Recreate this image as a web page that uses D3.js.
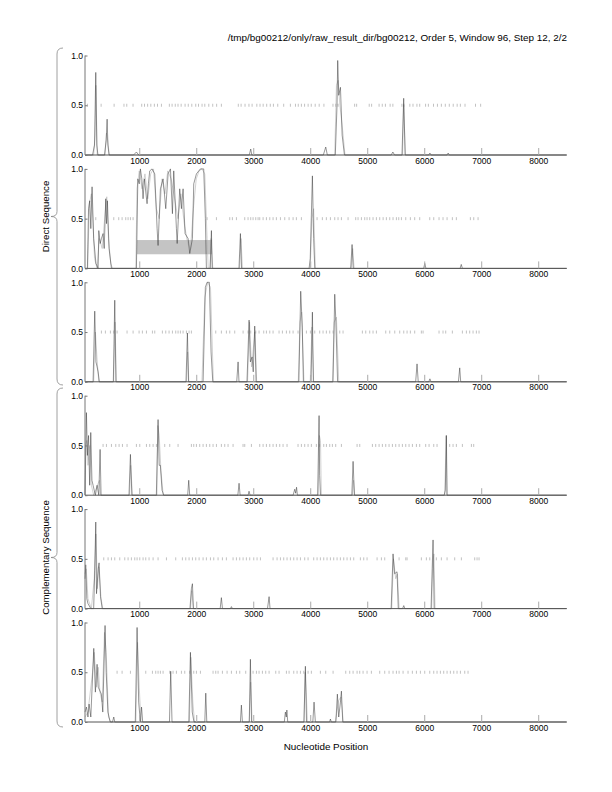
<!DOCTYPE html>
<html><head><meta charset="utf-8">
<script src="https://cdn.jsdelivr.net/npm/d3@7"></script>
<style>
html,body{margin:0;padding:0;background:#fff;}
svg{display:block;font-family:"Liberation Sans",Arial,Helvetica,sans-serif;}
</style></head>
<body>
<svg id="c" width="612" height="792"></svg>
<script>
const titleText = "/tmp/bg00212/only/raw_result_dir/bg00212, Order 5, Window 96, Step 12, 2/2";
const xLabel = "Nucleotide Position";
const groupLabels = ["Direct Sequence", "Complementary Sequence"];
const xDomain = [48, 8500];
const xTicks = [1000, 2000, 3000, 4000, 5000, 6000, 7000, 8000];
const yTicks = [0, 0.5, 1];
const boxX = [961, 2277];
const boxY = [0.142, 0.285];

const p1Black = [[48,0],[180,0],[215,0.1],[237,0.83],[255,0.1],[275,0],[390,0],[420,0.15],[436,0.36],[450,0.1],[470,0],[900,0],[950,0.03],[990,0],[2930,0],[2956,0.06],[2975,0],[4230,0],[4272,0.08],[4300,0],[4440,0],[4470,0.5],[4482,0.95],[4500,0.6],[4530,0.68],[4560,0.2],[4600,0],[5420,0],[5450,0.03],[5480,0],[5610,0],[5640,0.57],[5665,0],[6080,0],[6100,0.02],[6120,0],[6400,0],[6420,0.02],[6440,0],[8500,0]];
const p1Gray = [[48,0],[200,0],[225,0.2],[240,0.7],[262,0],[400,0],[425,0.22],[445,0.15],[475,0],[4430,0],[4460,0.7],[4490,0.75],[4520,0.5],[4560,0.3],[4610,0],[5620,0],[5640,0.5],[5670,0],[8500,0]];
const p2Black = [[48,0],[90,0],[110,0.6],[131,0.68],[150,0.4],[172,0.82],[200,0.3],[240,0.05],[278,0],[290,0.38],[315,0.25],[336,0.3],[365,0.35],[385,0.2],[412,0.7],[425,0.45],[441,0.68],[470,0.2],[512,0],[950,0],[975,0.9],[1000,0.85],[1020,1.0],[1045,0.9],[1067,0.7],[1090,0.9],[1137,0.65],[1160,0.85],[1184,0.98],[1225,1.0],[1272,0.95],[1313,0.4],[1330,0.23],[1371,0.8],[1418,0.9],[1465,0.6],[1506,0.95],[1547,1.0],[1582,0.55],[1605,0.98],[1652,0.4],[1665,0.25],[1710,0.8],[1740,0.6],[1769,0.8],[1804,0.35],[1857,0.3],[1886,0.15],[1933,0.3],[1956,0.85],[2003,0.95],[2073,1.0],[2131,1.0],[2160,0.5],[2178,0],[2245,0],[2266,0.38],[2280,0],[2750,0],[2775,0.35],[2795,0],[3980,0],[4000,0.1],[4038,0.93],[4060,0.3],[4080,0],[4710,0],[4734,0.24],[4755,0],[5990,0],[6010,0.05],[6030,0],[6630,0],[6650,0.04],[6670,0],[8500,0]];
const p2Gray = [[48,0],[95,0],[125,0.65],[160,0.75],[185,0.5],[215,0.1],[260,0],[300,0.3],[350,0.2],[400,0.55],[430,0.72],[460,0.3],[500,0.05],[530,0],[940,0],[960,0.8],[1000,0.98],[1050,0.8],[1100,0.95],[1150,0.7],[1200,0.95],[1250,1.0],[1300,0.6],[1350,0.5],[1400,0.9],[1450,0.75],[1500,0.98],[1560,0.9],[1620,0.7],[1680,0.5],[1730,0.75],[1790,0.45],[1850,0.25],[1900,0.2],[1950,0.6],[2000,0.9],[2050,0.98],[2100,1.0],[2150,0.95],[2190,0.3],[2210,0],[2240,0],[2260,0.3],[2290,0],[2760,0],[2785,0.3],[2810,0],[4000,0],[4030,0.5],[4060,0.6],[4090,0],[4720,0],[4745,0.2],[4770,0],[8500,0]];
const p3Black = [[48,0],[190,0],[219,0.71],[240,0.2],[260,0.15],[278,0.1],[300,0],[545,0],[570,0.82],[590,0],[1820,0],[1845,0.49],[1865,0],[2120,0],[2160,0.95],[2190,1.0],[2230,1.0],[2260,0.3],[2290,0],[2710,0],[2734,0.2],[2750,0],[2890,0],[2927,0.62],[2950,0.2],[2980,0.25],[3000,0.1],[3026,0.56],[3050,0],[3800,0],[3833,0.91],[3860,0.55],[3880,0],[4015,0],[4038,0.7],[4055,0],[4400,0],[4430,0.88],[4450,0.6],[4480,0],[5850,0],[5874,0.18],[5895,0],[6080,0],[6100,0.03],[6120,0],[6600,0],[6623,0.14],[6640,0],[8500,0]];
const p3Gray = [[48,0],[200,0],[230,0.5],[260,0.22],[290,0],[550,0],[575,0.6],[600,0],[1830,0],[1850,0.3],[1870,0],[2100,0],[2150,0.85],[2200,1.0],[2250,0.95],[2300,0],[2900,0],[2935,0.6],[2970,0.15],[3030,0.5],[3060,0],[3790,0],[3820,0.6],[3850,0.7],[3890,0],[4000,0],[4030,0.55],[4060,0],[4390,0],[4420,0.6],[4460,0.65],[4500,0],[8500,0]];
const p4Black = [[48,0],[73,0.83],[90,0.4],[110,0.6],[130,0.1],[149,0.63],[170,0.15],[190,0.1],[230,0],[260,0.1],[290,0],[313,0.46],[330,0],[820,0],[845,0.41],[870,0],[1300,0],[1330,0.76],[1350,0.3],[1371,0.3],[1400,0.05],[1430,0],[1850,0],[1868,0.15],[1885,0],[2730,0],[2751,0.12],[2770,0],[2910,0],[2926,0.04],[2945,0],[3700,0],[3728,0.06],[3745,0.02],[3760,0.08],[3775,0],[4130,0],[4155,0.8],[4165,0.2],[4180,0],[4730,0],[4752,0.34],[4775,0],[6350,0],[6370,0.05],[6389,0.6],[6400,0],[8500,0]];
const p4Gray = [[48,0],[60,0.5],[80,0.55],[100,0.3],[130,0.5],[160,0.1],[200,0],[300,0.15],[320,0],[830,0],[850,0.3],[880,0],[1310,0],[1325,0.7],[1350,0.6],[1380,0.25],[1420,0],[4140,0],[4160,0.6],[4180,0.55],[4195,0],[4740,0],[4760,0.15],[4780,0],[6360,0],[6385,0.6],[6400,0],[8500,0]];
const p5Black = [[48,0.3],[61,0.44],[80,0.1],[100,0.05],[150,0],[200,0],[219,0.38],[237,0.87],[250,0.15],[280,0.4],[295,0.46],[320,0.12],[350,0],[1890,0],[1915,0.2],[1933,0.25],[1950,0],[2420,0],[2441,0.11],[2460,0],[2600,0],[2617,0.02],[2635,0],[3250,0],[3278,0.12],[3295,0],[5420,0],[5453,0.55],[5480,0.35],[5523,0.37],[5545,0],[5620,0],[5641,0.03],[5660,0],[6120,0],[6140,0.4],[6155,0.69],[6175,0],[8500,0]];
const p5Gray = [[48,0.35],[70,0.4],[100,0.1],[160,0],[210,0.3],[240,0.75],[265,0.2],[290,0.42],[330,0.1],[360,0],[1900,0],[1920,0.18],[1950,0],[5430,0],[5460,0.5],[5500,0.3],[5530,0.35],[5560,0],[6130,0],[6150,0.45],[6170,0.55],[6190,0],[8500,0]];
const p6Black = [[48,0.1],[73,0.15],[100,0.05],[120,0.18],[150,0.05],[202,0.74],[230,0.3],[260,0.58],[280,0.35],[336,0.28],[360,0.1],[400,0.97],[420,0.5],[450,0.1],[490,0],[530,0],[553,0.05],[570,0],[930,0],[962,0.95],[990,0.2],[1020,0],[1040,0.15],[1060,0],[1530,0],[1552,0.51],[1575,0],[1870,0],[1898,0.7],[1930,0.1],[1960,0],[2150,0],[2167,0.29],[2185,0],[2775,0],[2792,0.17],[2810,0],[2930,0],[2950,0.63],[2970,0],[3545,0],[3564,0.1],[3580,0.05],[3590,0.12],[3605,0],[3890,0],[3915,0.56],[3935,0],[4045,0],[4067,0.2],[4090,0],[4340,0],[4354,0.03],[4370,0],[4450,0],[4476,0.28],[4500,0.05],[4530,0.2],[4547,0.31],[4570,0],[8500,0]];
const p6Gray = [[48,0.05],[100,0.1],[180,0.5],[210,0.7],[250,0.35],[280,0.55],[310,0.3],[350,0.2],[390,0.9],[420,0.7],[460,0.05],[500,0],[940,0],[970,0.8],[1000,0.35],[1030,0],[1880,0],[1905,0.65],[1940,0.2],[1970,0],[2930,0],[2955,0.4],[2980,0],[3890,0],[3910,0.5],[3930,0.3],[3950,0],[4440,0],[4500,0.22],[4540,0.25],[4580,0],[8500,0]];

const p1Rug = [90,331,559,732,781,891,1043,1092,1147,1203,1265,1320,1389,1528,1576,1632,1680,1735,1804,1860,1922,1991,2040,2102,2150,2220,2289,2358,2441,2738,2787,2856,2925,2980,3063,3119,3174,3236,3299,3354,3430,3534,3652,3741,3790,3845,3901,3963,4018,4087,4157,4240,4399,4447,4489,4779,4814,5035,5077,5208,5264,5319,5402,5450,5609,5644,5748,5803,5872,5921,6024,6073,6163,6232,6301,6370,6440,6509,6578,6634,6716,6900,6990];
const p2Rug = [237,553,640,699,763,804,845,892,2190,2354,2588,2634,2705,2851,2909,2956,2997,3044,3085,3114,3173,3231,3290,3348,3406,3477,3553,3629,3699,3757,3845,4120,4213,4283,4354,4430,4488,4547,4664,4798,4839,4898,4956,4997,5044,5102,5161,5219,5279,5336,5395,5453,5512,5553,5600,5676,5757,5833,5921,6097,6167,6260,6330,6401,6494,6564,6810,6869,6945];
const p3Rug = [336,406,494,553,611,786,892,997,1055,1126,1231,1272,1406,1465,1523,1582,1640,1681,1722,1769,1828,1874,1915,2342,2441,2529,2588,2675,2822,2909,2956,3044,3102,3184,3231,3290,3348,3453,3512,3582,3640,3699,3786,3933,4003,4079,4166,4225,4283,4342,4401,4518,4576,4915,4974,5044,5102,5161,5325,5395,5483,5570,5641,5699,5757,5833,5950,5980,6260,6330,6377,6494,6670,6740,6798,6857,6915,6962];
const p4Rug = [365,424,512,588,646,705,786,950,1009,1126,1184,1243,1301,1447,1535,1681,1915,1956,2003,2061,2120,2178,2237,2295,2354,2441,2500,2558,2646,2821,2851,2968,3114,3173,3231,3290,3348,3406,3465,3523,3593,3786,3845,3903,3962,4020,4108,4167,4237,4284,4342,4389,4447,4547,4822,4869,5091,5149,5208,5266,5325,5383,5442,5500,5559,5617,5676,5734,5793,5863,5921,6026,6085,6167,6225,6447,6506,6564,6670,6828,6868];
const p5Rug = [377,453,512,570,658,746,804,862,921,962,1009,1067,1114,1172,1243,1330,1477,1640,1757,1816,1874,1933,1991,2050,2120,2178,2249,2307,2383,2459,2529,2646,2705,2763,2822,2880,2938,3009,3067,3126,3348,3418,3477,3535,3593,3652,3711,3769,3828,3903,3962,4061,4120,4178,4237,4295,4354,4412,4471,4529,4588,4646,4705,4763,4880,4939,4997,5173,5249,5307,5559,5676,5699,5950,6038,6097,6213,6301,6401,6535,6652,6886,6927,6962];
const p6Rug = [611,699,845,1114,1231,1289,1330,1371,1418,1535,1593,1652,1740,1798,1886,1956,2003,2073,2295,2342,2383,2459,2541,2617,2705,2763,2868,2997,3056,3102,3161,3219,3278,3395,3453,3582,3629,3711,3769,3828,3886,3962,4020,4178,4272,4401,4623,4693,4752,4822,4868,4927,4997,5073,5219,5307,5383,5453,5512,5559,5629,5716,5792,5863,5933,6009,6097,6167,6225,6284,6342,6401,6459,6518,6576,6635,6711,6769];

const panels = [
  {black:p1Black, gray:p1Gray, rug:p1Rug},
  {black:p2Black, gray:p2Gray, rug:p2Rug, box:true},
  {black:p3Black, gray:p3Gray, rug:p3Rug},
  {black:p4Black, gray:p4Gray, rug:p4Rug},
  {black:p5Black, gray:p5Gray, rug:p5Rug},
  {black:p6Black, gray:p6Gray, rug:p6Rug}
];

const svg = d3.select("#c");
const left = 85, right = 566.7, top0 = 55.5, step = 113.4, ph = 99.5;
const x = d3.scaleLinear().domain(xDomain).range([left, right]);

svg.append("text").attr("x", 567).attr("y", 41).attr("text-anchor","end")
  .attr("font-size", 9.9).attr("fill","#000").text(titleText);

panels.forEach((p, i) => {
  const t = top0 + i*step;
  const y = d3.scaleLinear().domain([0,1]).range([t+ph, t]);
  const g = svg.append("g");
  if (p.box) {
    g.append("rect").attr("x", x(boxX[0])).attr("width", x(boxX[1])-x(boxX[0]))
      .attr("y", y(boxY[1])).attr("height", y(boxY[0])-y(boxY[1])).attr("fill","#c4c4c4");
  }
  g.selectAll("line.rug").data(p.rug).enter().append("line")
    .attr("x1", d=>x(d)).attr("x2", d=>x(d))
    .attr("y1", y(0.515)).attr("y2", y(0.485))
    .attr("stroke","#999").attr("stroke-width",0.6);
  const line = d3.line().x(d=>x(d[0])).y(d=>y(d[1]));
  g.append("path").attr("d", line(p.gray)).attr("fill","none").attr("stroke","#b4b4b4").attr("stroke-width",0.6);
  g.append("path").attr("d", line(p.black)).attr("fill","none").attr("stroke","#333").attr("stroke-width",0.5);
  const xa = g.append("g").attr("transform", `translate(0,${t+ph})`)
    .call(d3.axisBottom(x).tickValues(xTicks).tickSize(-7).tickFormat(d3.format("d")).tickPadding(3));
  xa.select(".domain").attr("stroke","#555").attr("d", `M${left},0H${right}`);
  xa.selectAll(".tick line").attr("stroke","#aaa");
  xa.selectAll(".tick text").attr("font-size",8.5).attr("fill","#000").attr("dy","0.71em")
    .attr("y", 2.5).attr("font-family","Liberation Sans, Arial, sans-serif");
  const ya = g.append("g").attr("transform", `translate(${left},0)`)
    .call(d3.axisLeft(y).tickValues(yTicks).tickSize(-2.5).tickFormat(d3.format(".1f")).tickPadding(2));
  ya.select(".domain").attr("stroke","#777").attr("d", `M0,${t+ph}V${t}`);
  ya.selectAll(".tick line").attr("stroke","#777");
  ya.selectAll(".tick text").attr("font-size",8.5).attr("fill","#000")
    .attr("font-family","Liberation Sans, Arial, sans-serif");
});

svg.append("text").attr("x", 326).attr("y", 750).attr("text-anchor","middle")
  .attr("font-size", 9.9).text(xLabel);

function brace(y0, y1) {
  const m = (y0+y1)/2, xv = 57, xt = 51, xe = 63;
  return `M${xe},${y0} Q${xv},${y0} ${xv},${y0+6} L${xv},${m-5} Q${xv},${m} ${xt},${m} Q${xv},${m} ${xv},${m+5} L${xv},${y1-6} Q${xv},${y1} ${xe},${y1}`;
}
const braces = [[48, 385], [388, 727]];
braces.forEach((b, i) => {
  svg.append("path").attr("d", brace(b[0], b[1])).attr("fill","none").attr("stroke","#888").attr("stroke-width",0.8);
  const m = (b[0]+b[1])/2;
  svg.append("text").attr("transform", `translate(49,${m}) rotate(-90)`).attr("text-anchor","middle")
    .attr("font-size", 9.7).text(groupLabels[i]);
});
</script>
</body></html>
